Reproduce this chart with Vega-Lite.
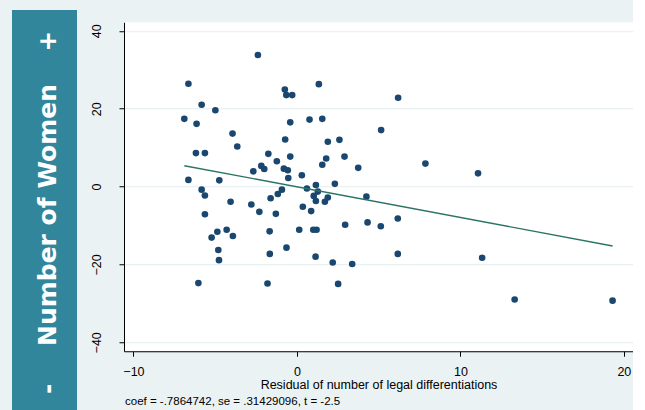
{
  "$schema": "https://vega.github.io/schema/vega-lite/v6.json",
  "background": "#eaf2f3",
  "padding": {"left": 12, "top": 10, "right": 0, "bottom": 0},
  "spacing": 13,
  "center": true,
  "config": {
    "view": {"stroke": null},
    "font": "Liberation Sans"
  },
  "datasets": {
    "pts": [
      {"residual": -2.39, "women": 33.8}, {"residual": -6.64, "women": 26.4}, {"residual": -0.74, "women": 24.9},
      {"residual": -0.65, "women": 23.5}, {"residual": -0.29, "women": 23.5}, {"residual": -5.83, "women": 21.0},
      {"residual": -4.99, "women": 19.6}, {"residual": -6.89, "women": 17.4}, {"residual": -6.14, "women": 16.1},
      {"residual": -0.41, "women": 16.5}, {"residual": -3.94, "women": 13.6}, {"residual": -3.65, "women": 10.3},
      {"residual": -0.72, "women": 12.1}, {"residual": -6.18, "women": 8.6}, {"residual": -5.63, "women": 8.6},
      {"residual": -1.75, "women": 8.4}, {"residual": -0.41, "women": 7.7}, {"residual": -1.23, "women": 6.5},
      {"residual": -2.18, "women": 5.3}, {"residual": -2.0, "women": 4.5}, {"residual": -2.67, "women": 3.9},
      {"residual": -0.8, "women": 4.6}, {"residual": -0.56, "women": 4.2}, {"residual": 1.34, "women": 26.3},
      {"residual": 6.19, "women": 22.8}, {"residual": 0.77, "women": 17.2}, {"residual": 1.55, "women": 17.4},
      {"residual": 5.15, "women": 14.5}, {"residual": 1.89, "women": 11.5}, {"residual": 2.6, "women": 12.0},
      {"residual": 1.79, "women": 7.2}, {"residual": 2.91, "women": 7.7}, {"residual": 1.55, "women": 5.6},
      {"residual": 3.75, "women": 4.8}, {"residual": -0.53, "women": 2.2}, {"residual": -6.64, "women": 1.7},
      {"residual": -4.75, "women": 1.6}, {"residual": -5.83, "women": -0.8}, {"residual": -5.63, "women": -2.3},
      {"residual": -4.06, "women": -3.9}, {"residual": -2.79, "women": -4.6}, {"residual": -1.61, "women": -3.0},
      {"residual": -1.17, "women": -1.9}, {"residual": -0.92, "women": -0.8}, {"residual": -2.3, "women": -6.5},
      {"residual": -1.29, "women": -7.0}, {"residual": -5.63, "women": -7.1}, {"residual": -4.3, "women": -11.1},
      {"residual": -4.87, "women": -11.6}, {"residual": -3.92, "women": -12.7}, {"residual": -5.22, "women": -13.1},
      {"residual": -1.67, "women": -11.5}, {"residual": -4.81, "women": -16.3}, {"residual": -4.77, "women": -18.9},
      {"residual": -1.66, "women": -17.3}, {"residual": -0.64, "women": -15.7}, {"residual": -6.03, "women": -24.8},
      {"residual": -1.8, "women": -24.9}, {"residual": 0.3, "women": 2.9}, {"residual": 1.16, "women": 0.4},
      {"residual": 2.32, "women": 0.7}, {"residual": 0.61, "women": -0.5}, {"residual": 1.28, "women": -1.3},
      {"residual": 1.03, "women": -2.4}, {"residual": 1.16, "women": -3.7}, {"residual": 1.71, "women": -3.9},
      {"residual": 1.89, "women": -2.8}, {"residual": 4.25, "women": -2.6}, {"residual": 0.36, "women": -5.2},
      {"residual": 0.87, "women": -6.3}, {"residual": 0.14, "women": -11.1}, {"residual": 1.0, "women": -11.1},
      {"residual": 1.2, "women": -11.1}, {"residual": 2.95, "women": -9.8}, {"residual": 4.32, "women": -9.2},
      {"residual": 5.13, "women": -10.2}, {"residual": 6.17, "women": -8.2}, {"residual": 6.17, "women": -17.3},
      {"residual": 1.14, "women": -18.0}, {"residual": 2.19, "women": -19.5}, {"residual": 3.38, "women": -19.9},
      {"residual": 2.52, "women": -25.0}, {"residual": 7.86, "women": 5.9}, {"residual": 11.08, "women": 3.4},
      {"residual": 11.33, "women": -18.3}, {"residual": 13.32, "women": -29.0}, {"residual": 19.31, "women": -29.3}
    ],
    "fit": [
      {"residual": -6.89, "women": 5.35},
      {"residual": 19.31, "women": -15.26}
    ],
    "side": [
      {"label": "+"},
      {"label": "Number of Women"},
      {"label": "-"}
    ]
  },
  "hconcat": [
    {
      "width": 65,
      "height": 410,
      "view": {"fill": "#32869c", "stroke": null},
      "data": {"name": "side"},
      "mark": {"type": "text", "angle": 270, "color": "white", "font": "DejaVu Sans", "fontWeight": "bold", "fontSize": 25, "align": "center", "baseline": "middle", "dy": 3},
      "encoding": {
        "text": {"field": "label", "type": "nominal"},
        "y": {"field": "label", "type": "nominal", "sort": ["+", "Number of Women", "-"], "scale": {"type": "point", "padding": 0.18}, "axis": null}
      }
    },
    {
      "width": 509,
      "height": 329,
      "view": {"fill": "white", "stroke": null},
      "title": {"text": "coef = -.7864742, se = .31429096, t = -2.5", "orient": "bottom", "anchor": "start", "fontSize": 11.5, "fontWeight": "normal", "font": "Liberation Sans", "color": "#000000", "offset": 5, "dx": 35},
      "encoding": {
        "x": {"field": "residual", "type": "quantitative", "scale": {"domain": [-10.58, 20.56], "nice": false, "zero": false},
          "axis": {"title": "Residual of number of legal differentiations", "values": [-10, 0, 10, 20], "grid": false, "tickSize": 5, "tickColor": "#000000", "domainColor": "#000000", "labelColor": "#000000", "labelFontSize": 12.5, "labelPadding": 9, "labelFont": "Liberation Sans", "titleFont": "Liberation Sans", "titleFontSize": 12.5, "titleFontWeight": "normal", "titleColor": "#000000", "titlePadding": 1, "labelFlush": false}},
        "y": {"field": "women", "type": "quantitative", "scale": {"domain": [-42.3, 42.2], "nice": false, "zero": false},
          "axis": {"title": null, "values": [-40, -20, 0, 20, 40], "grid": true, "gridColor": "#e3ecef", "gridWidth": 1, "tickSize": 5, "tickColor": "#000000", "domainColor": "#000000", "labelColor": "#000000", "labelFontSize": 12.5, "labelFont": "Liberation Sans", "labelAngle": 270, "labelAlign": "center", "labelBaseline": "bottom", "labelPadding": 16, "labelFlush": false}}
      },
      "layer": [
        {"data": {"name": "pts"}, "mark": {"type": "circle", "size": 44, "color": "#1a476f", "opacity": 1}},
        {"data": {"name": "fit"}, "mark": {"type": "line", "color": "#2a7464", "strokeWidth": 1.4}}
      ]
    }
  ]
}
